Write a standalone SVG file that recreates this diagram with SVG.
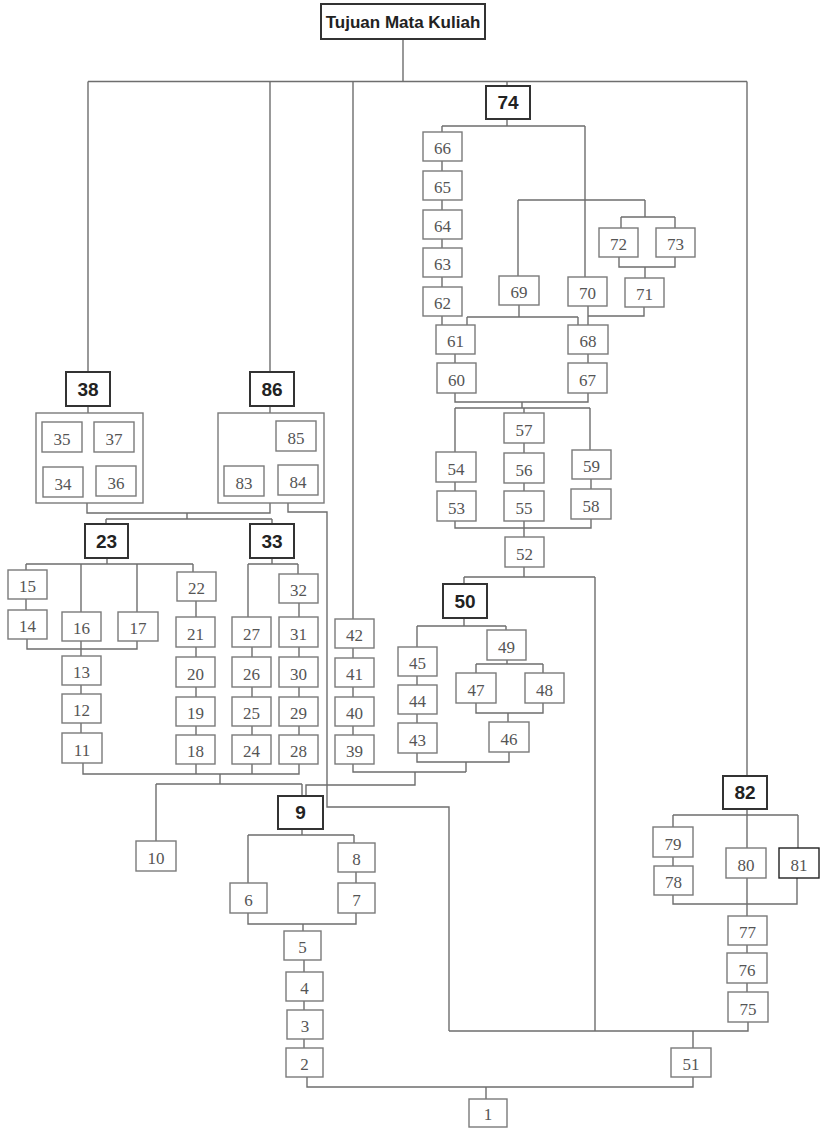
<svg xmlns="http://www.w3.org/2000/svg" width="821" height="1128" viewBox="0 0 821 1128">
<style>
.b{fill:#fff;stroke:#7a7a7a;stroke-width:1.4}
.k{fill:#fff;stroke:#333;stroke-width:2}
.f{fill:none;stroke:#7a7a7a;stroke-width:1.4}
.t{font-family:"Liberation Serif","Times New Roman",serif;font-size:17px;fill:#555;text-anchor:middle}
.bt{font-family:"Liberation Sans",Arial,sans-serif;font-size:19px;font-weight:bold;fill:#222;text-anchor:middle}
.c{fill:none;stroke:#6e6e6e;stroke-width:1.4}
</style>
<rect width="821" height="1128" fill="#fff"/>
<g id="connectors" class="c">
<path d="M403,39V81.5M88,81.5H747M88,81.5V372M270,81.5V372M353,81.5V619M507,81.5V86M747,81.5V776"/>
<path d="M507,119V126M442,126H585M442,126V132M585,126V277"/>
<path d="M442,161V171M442,200V210M442,239V248M442,277V287M442,316V325"/>
<path d="M518,200H645M518,200V276M645,200V217M621,217H675M621,217V228M675,217V228M619,257V267H675V257M645,267V278"/>
<path d="M519,305V317M467,317H578M467,317V325M578,317V325M588,306V316H644V307M588,316V325"/>
<path d="M455,354V363M588,354V363M455,393V402H588V393M522,402V408M455,408H590M455,408V452M524,408V413M590,408V450"/>
<path d="M455,482V491M524,443V453M524,483V491M591,479V489M455,521V528H591V519M524,521V537"/>
<path d="M524,567V577M464,577H595M464,577V584M595,577V1031"/>
<path d="M464,618V626M417,626H506M417,626V647M506,626V630M417,676V685M417,714V723"/>
<path d="M507,660V664M476,664H543M476,664V673M543,664V673M476,703V713H543V703M508,713V722"/>
<path d="M417,753V762H509V752M466,762V772M353,764V772H466M415,772V785H306V796"/>
<path d="M353,648V658M353,687V697M353,726V735"/>
<path d="M88,406V413M270,406V413M87,503V513H270V503M187,513V519M106,519H272M106,519V524M272,519V524"/>
<path d="M288,495V512H327V807H449V1031"/>
<path d="M107,558V564M26,564H193M26,564V570M81,564V612M137,564V612M193,564V572M26,599V610M27,639V649H137V641M81,641V656M81,685V694M81,723V733"/>
<path d="M196,601V617M196,647V657M196,687V697M196,726V735"/>
<path d="M272,558V564M248,564H298M248,564V617M298,564V574M299,603V617M299,647V657M299,687V697M299,726V735M252,647V657M252,687V697M252,726V735"/>
<path d="M83,763V774H299V764M196,764V774M252,764V774M220,774V784M156,784H302M156,784V841M302,784V796"/>
<path d="M302,829V835M248,835H354M248,835V883M354,835V843M356,872V883M248,913V924H356V913M303,924V931"/>
<path d="M304,960V972M304,1001V1010M304,1039V1048M307,1077V1087H693V1077M486,1087V1099M449,1031H748V1022M693,1031V1048"/>
<path d="M747,809V815M673,815H798M673,815V827M747,815V848M798,815V848M673,857V866M673,895V904H797V878M747,878V916M747,945V953M747,983V992"/>
</g>
<g id="title"><rect class="k" x="321" y="4" width="164" height="35"/><text x="403" y="28" style="font-family:'Liberation Sans',Arial,sans-serif;font-size:17px;font-weight:bold;fill:#222;text-anchor:middle">Tujuan Mata Kuliah</text></g>
<g id="n74"><rect class="k" x="486" y="86" width="44" height="33"/><text class="bt" x="508" y="109">74</text></g>
<g id="n66"><rect class="b" x="423" y="132" width="39" height="29"/><text class="t" x="442.5" y="154">66</text></g>
<g id="n65"><rect class="b" x="423" y="171" width="39" height="29"/><text class="t" x="442.5" y="193">65</text></g>
<g id="n64"><rect class="b" x="423" y="210" width="39" height="29"/><text class="t" x="442.5" y="232">64</text></g>
<g id="n63"><rect class="b" x="423" y="248" width="39" height="29"/><text class="t" x="442.5" y="270">63</text></g>
<g id="n62"><rect class="b" x="423" y="287" width="39" height="29"/><text class="t" x="442.5" y="309">62</text></g>
<g id="n69"><rect class="b" x="499" y="276" width="40" height="29"/><text class="t" x="519" y="298">69</text></g>
<g id="n70"><rect class="b" x="568" y="277" width="39" height="29"/><text class="t" x="587.5" y="299">70</text></g>
<g id="n72"><rect class="b" x="599" y="228" width="39" height="29"/><text class="t" x="618.5" y="250">72</text></g>
<g id="n73"><rect class="b" x="656" y="228" width="39" height="29"/><text class="t" x="675.5" y="250">73</text></g>
<g id="n71"><rect class="b" x="625" y="278" width="39" height="29"/><text class="t" x="644.5" y="300">71</text></g>
<g id="n61"><rect class="b" x="436" y="325" width="39" height="29"/><text class="t" x="455.5" y="347">61</text></g>
<g id="n68"><rect class="b" x="568" y="325" width="40" height="29"/><text class="t" x="588" y="347">68</text></g>
<g id="n60"><rect class="b" x="437" y="363" width="39" height="30"/><text class="t" x="456.5" y="386">60</text></g>
<g id="n67"><rect class="b" x="568" y="363" width="39" height="30"/><text class="t" x="587.5" y="386">67</text></g>
<g id="n57"><rect class="b" x="504" y="413" width="40" height="30"/><text class="t" x="524" y="436">57</text></g>
<g id="n54"><rect class="b" x="436" y="452" width="40" height="30"/><text class="t" x="456" y="475">54</text></g>
<g id="n56"><rect class="b" x="504" y="453" width="40" height="30"/><text class="t" x="524" y="476">56</text></g>
<g id="n59"><rect class="b" x="572" y="450" width="39" height="29"/><text class="t" x="591.5" y="472">59</text></g>
<g id="n53"><rect class="b" x="437" y="491" width="39" height="30"/><text class="t" x="456.5" y="514">53</text></g>
<g id="n55"><rect class="b" x="504" y="491" width="40" height="30"/><text class="t" x="524" y="514">55</text></g>
<g id="n58"><rect class="b" x="571" y="489" width="40" height="30"/><text class="t" x="591" y="512">58</text></g>
<g id="n52"><rect class="b" x="505" y="537" width="39" height="30"/><text class="t" x="524.5" y="560">52</text></g>
<g id="n50"><rect class="k" x="443" y="584" width="44" height="34"/><text class="bt" x="465" y="608">50</text></g>
<g id="n45"><rect class="b" x="398" y="647" width="39" height="29"/><text class="t" x="417.5" y="669">45</text></g>
<g id="n44"><rect class="b" x="398" y="685" width="39" height="29"/><text class="t" x="417.5" y="707">44</text></g>
<g id="n43"><rect class="b" x="398" y="723" width="39" height="30"/><text class="t" x="417.5" y="746">43</text></g>
<g id="n49"><rect class="b" x="487" y="630" width="39" height="30"/><text class="t" x="506.5" y="653">49</text></g>
<g id="n47"><rect class="b" x="456" y="673" width="40" height="30"/><text class="t" x="476" y="696">47</text></g>
<g id="n48"><rect class="b" x="525" y="673" width="39" height="30"/><text class="t" x="544.5" y="696">48</text></g>
<g id="n46"><rect class="b" x="489" y="722" width="40" height="30"/><text class="t" x="509" y="745">46</text></g>
<g id="n42"><rect class="b" x="335" y="619" width="39" height="29"/><text class="t" x="354.5" y="641">42</text></g>
<g id="n41"><rect class="b" x="335" y="658" width="39" height="29"/><text class="t" x="354.5" y="680">41</text></g>
<g id="n40"><rect class="b" x="335" y="697" width="39" height="29"/><text class="t" x="354.5" y="719">40</text></g>
<g id="n39"><rect class="b" x="335" y="735" width="39" height="29"/><text class="t" x="354.5" y="757">39</text></g>
<g id="n38"><rect class="k" x="66" y="372" width="44" height="34"/><text class="bt" x="88" y="396">38</text></g>
<g id="group38"><rect class="b" x="36" y="413" width="107" height="90"/></g>
<g id="n35"><rect class="b" x="42" y="422" width="40" height="30"/><text class="t" x="62" y="445">35</text></g>
<g id="n37"><rect class="b" x="94" y="422" width="40" height="30"/><text class="t" x="114" y="445">37</text></g>
<g id="n34"><rect class="b" x="43" y="467" width="40" height="30"/><text class="t" x="63" y="490">34</text></g>
<g id="n36"><rect class="b" x="96" y="466" width="40" height="30"/><text class="t" x="116" y="489">36</text></g>
<g id="n86"><rect class="k" x="250" y="372" width="44" height="34"/><text class="bt" x="272" y="396">86</text></g>
<g id="group86"><rect class="b" x="218" y="413" width="106" height="90"/></g>
<g id="n85"><rect class="b" x="276" y="421" width="40" height="30"/><text class="t" x="296" y="444">85</text></g>
<g id="n83"><rect class="b" x="224" y="466" width="40" height="30"/><text class="t" x="244" y="489">83</text></g>
<g id="n84"><rect class="b" x="278" y="465" width="40" height="30"/><text class="t" x="298" y="488">84</text></g>
<g id="n23"><rect class="k" x="85" y="524" width="43" height="34"/><text class="bt" x="106.5" y="548">23</text></g>
<g id="n33"><rect class="k" x="250" y="524" width="44" height="34"/><text class="bt" x="272" y="548">33</text></g>
<g id="n15"><rect class="b" x="8" y="570" width="39" height="29"/><text class="t" x="27.5" y="592">15</text></g>
<g id="n14"><rect class="b" x="8" y="610" width="39" height="29"/><text class="t" x="27.5" y="632">14</text></g>
<g id="n16"><rect class="b" x="62" y="612" width="39" height="29"/><text class="t" x="81.5" y="634">16</text></g>
<g id="n17"><rect class="b" x="118" y="612" width="40" height="29"/><text class="t" x="138" y="634">17</text></g>
<g id="n22"><rect class="b" x="177" y="572" width="39" height="29"/><text class="t" x="196.5" y="594">22</text></g>
<g id="n21"><rect class="b" x="176" y="617" width="39" height="30"/><text class="t" x="195.5" y="640">21</text></g>
<g id="n20"><rect class="b" x="176" y="657" width="39" height="30"/><text class="t" x="195.5" y="680">20</text></g>
<g id="n19"><rect class="b" x="176" y="697" width="39" height="29"/><text class="t" x="195.5" y="719">19</text></g>
<g id="n18"><rect class="b" x="176" y="735" width="39" height="29"/><text class="t" x="195.5" y="757">18</text></g>
<g id="n32"><rect class="b" x="279" y="574" width="39" height="29"/><text class="t" x="298.5" y="596">32</text></g>
<g id="n27"><rect class="b" x="232" y="617" width="39" height="30"/><text class="t" x="251.5" y="640">27</text></g>
<g id="n26"><rect class="b" x="232" y="657" width="39" height="30"/><text class="t" x="251.5" y="680">26</text></g>
<g id="n25"><rect class="b" x="232" y="697" width="39" height="29"/><text class="t" x="251.5" y="719">25</text></g>
<g id="n24"><rect class="b" x="232" y="735" width="39" height="29"/><text class="t" x="251.5" y="757">24</text></g>
<g id="n31"><rect class="b" x="279" y="617" width="39" height="30"/><text class="t" x="298.5" y="640">31</text></g>
<g id="n30"><rect class="b" x="279" y="657" width="39" height="30"/><text class="t" x="298.5" y="680">30</text></g>
<g id="n29"><rect class="b" x="279" y="697" width="39" height="29"/><text class="t" x="298.5" y="719">29</text></g>
<g id="n28"><rect class="b" x="279" y="735" width="39" height="29"/><text class="t" x="298.5" y="757">28</text></g>
<g id="n13"><rect class="b" x="62" y="656" width="39" height="29"/><text class="t" x="81.5" y="678">13</text></g>
<g id="n12"><rect class="b" x="62" y="694" width="39" height="29"/><text class="t" x="81.5" y="716">12</text></g>
<g id="n11"><rect class="b" x="62" y="733" width="40" height="30"/><text class="t" x="82" y="756">11</text></g>
<g id="n10"><rect class="b" x="136" y="841" width="40" height="30"/><text class="t" x="156" y="864">10</text></g>
<g id="n9"><rect class="k" x="278" y="796" width="45" height="33"/><text class="bt" x="300.5" y="819">9</text></g>
<g id="n8"><rect class="b" x="338" y="843" width="37" height="29"/><text class="t" x="356.5" y="865">8</text></g>
<g id="n7"><rect class="b" x="338" y="883" width="37" height="30"/><text class="t" x="356.5" y="906">7</text></g>
<g id="n6"><rect class="b" x="230" y="883" width="37" height="30"/><text class="t" x="248.5" y="906">6</text></g>
<g id="n5"><rect class="b" x="284" y="931" width="37" height="29"/><text class="t" x="302.5" y="953">5</text></g>
<g id="n4"><rect class="b" x="286" y="972" width="37" height="29"/><text class="t" x="304.5" y="994">4</text></g>
<g id="n3"><rect class="b" x="287" y="1010" width="36" height="29"/><text class="t" x="305" y="1032">3</text></g>
<g id="n2"><rect class="b" x="286" y="1048" width="37" height="29"/><text class="t" x="304.5" y="1070">2</text></g>
<g id="n1"><rect class="b" x="469" y="1099" width="38" height="28"/><text class="t" x="488" y="1120">1</text></g>
<g id="n51"><rect class="b" x="671" y="1048" width="40" height="29"/><text class="t" x="691" y="1070">51</text></g>
<g id="n82"><rect class="k" x="723" y="776" width="44" height="33"/><text class="bt" x="745" y="799">82</text></g>
<g id="n79"><rect class="b" x="653" y="827" width="40" height="30"/><text class="t" x="673" y="850">79</text></g>
<g id="n78"><rect class="b" x="654" y="866" width="39" height="29"/><text class="t" x="673.5" y="888">78</text></g>
<g id="n80"><rect class="b" x="726" y="848" width="40" height="30"/><text class="t" x="746" y="871">80</text></g>
<g id="n81"><rect class="b" style="stroke:#222" x="779" y="848" width="40" height="30"/><text class="t" x="799" y="871">81</text></g>
<g id="n77"><rect class="b" x="728" y="916" width="39" height="29"/><text class="t" x="747.5" y="938">77</text></g>
<g id="n76"><rect class="b" x="727" y="953" width="40" height="30"/><text class="t" x="747" y="976">76</text></g>
<g id="n75"><rect class="b" x="728" y="992" width="40" height="30"/><text class="t" x="748" y="1015">75</text></g>
</svg>
